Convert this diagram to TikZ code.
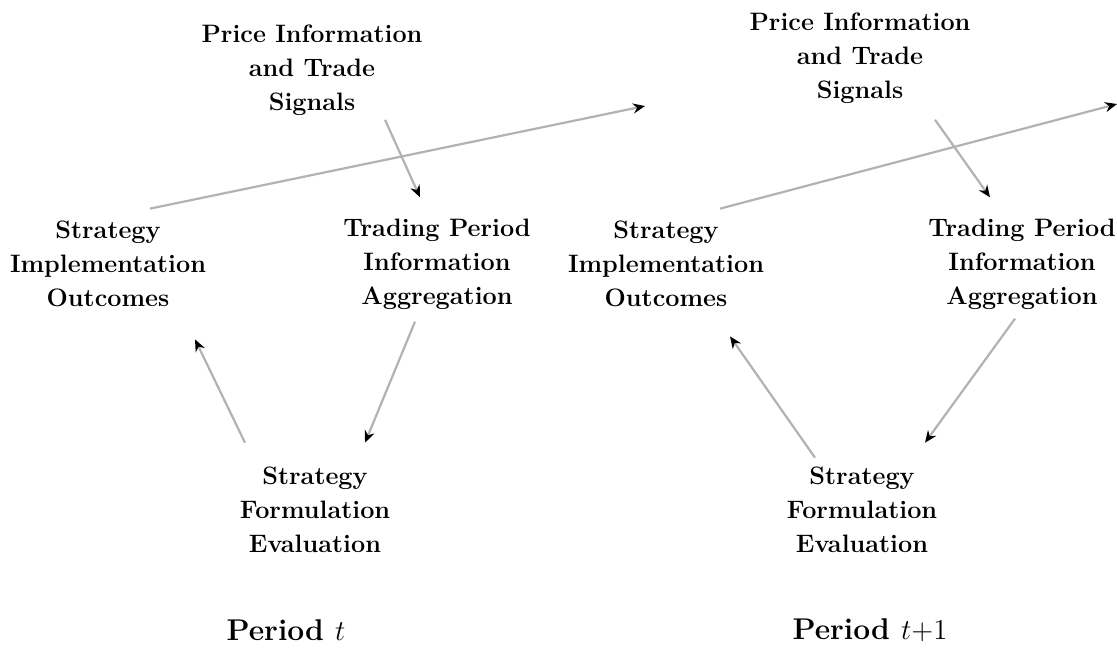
\documentclass[tikz,border=0pt]{standalone}
\usetikzlibrary{arrows.meta,calc}
\begin{document}
\begin{tikzpicture}[x=0.5pt,y=-0.5pt,
  lbl/.style={align=center,font=\fontsize{12.6}{17}\selectfont\bfseries,inner sep=2pt},
  per/.style={font=\fontsize{15}{18}\selectfont\bfseries},
  link/.style={draw=black!30,line width=1.1pt,-{Stealth[black,length=6pt,width=5pt]}}]
\useasboundingbox (0,0) rectangle (1117,652);

% period t
\node[lbl] (T0) at (312,70) {Price Information\\and Trade\\Signals};
\node[lbl] (S0) at (108,264) {Strategy\\Implementation\\Outcomes};
\node[lbl] (F0) at (437,264) {Trading Period\\Information\\Aggregation};
\node[lbl] (B0) at (315,510) {Strategy\\Formulation\\Evaluation};
\node[per] (P0) at (286,630) {Period $t$};
\coordinate (N0) at (645,106);

\draw[link] ($(T0.south)+(73,0)$) to ($(F0.north)+(-17,-17)$);
\draw[link] ($(S0.north)+(42,-8)$) to (N0);
\draw[link] ($(F0.south)+(-22,8)$) to ($(B0.north)+(50,-20)$);
\draw[link] ($(B0.north)+(-70,-20)$) to ($(S0.south)+(87,28)$);

% period t+1
\node[lbl] (T1) at (860,58) {Price Information\\and Trade\\Signals};
\node[lbl] (S1) at (666,264) {Strategy\\Implementation\\Outcomes};
\node[lbl] (F1) at (1022,264) {Trading Period\\Information\\Aggregation};
\node[lbl] (B1) at (862,510) {Strategy\\Formulation\\Evaluation};
\node[per] (P1) at (870,630) {Period $t{+}1$};
\coordinate (N1) at (1117,104);

\draw[link] ($(T1.south)+(75,12)$) to ($(F1.north)+(-32,-17)$);
\draw[link] ($(S1.north)+(54,-8)$) to (N1);
\draw[link] ($(F1.south)+(-7,5)$) to ($(B1.north)+(63,-20)$);
\draw[link] ($(B1.north)+(-47,-5)$) to ($(S1.south)+(64,25)$);
\end{tikzpicture}
\end{document}
